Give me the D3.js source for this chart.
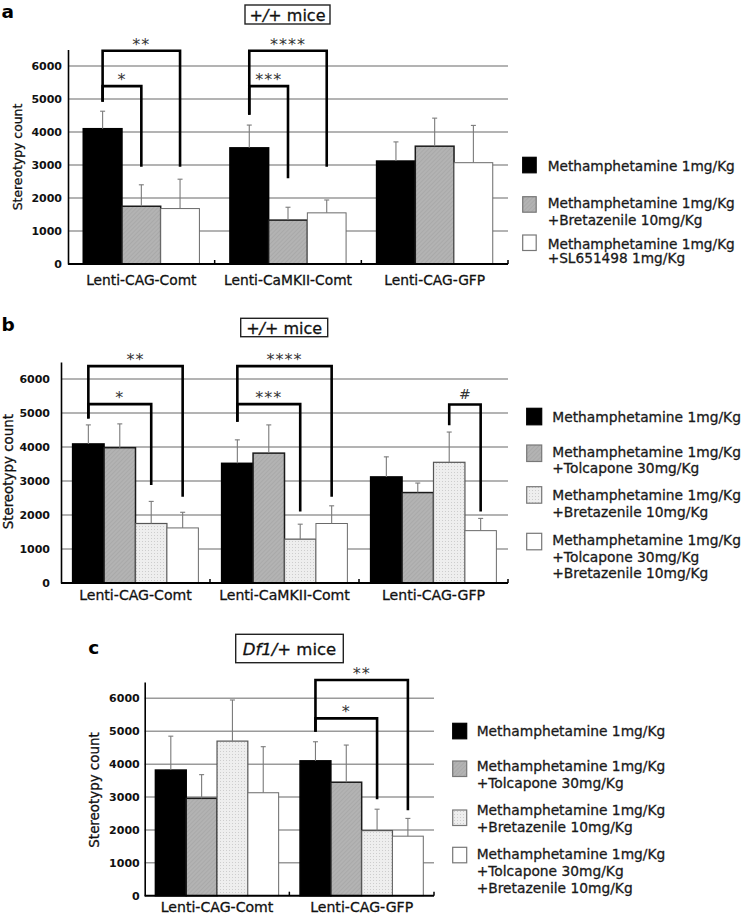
<!DOCTYPE html>
<html><head><meta charset="utf-8">
<script src="https://cdn.jsdelivr.net/npm/d3@7"></script>
<style>body{margin:0;background:#fff}svg{display:block}</style>
</head><body>
<script>
// ---------------- DATA ----------------
const groupsAB = ["Lenti-CAG-Comt", "Lenti-CaMKII-Comt", "Lenti-CAG-GFP"];
const groupsC = ["Lenti-CAG-Comt", "Lenti-CAG-GFP"];
const seriesA = [
  ["Methamphetamine 1mg/Kg"],
  ["Methamphetamine 1mg/Kg", "+Bretazenile 10mg/Kg"],
  ["Methamphetamine 1mg/Kg", "+SL651498 1mg/Kg"]
];
const seriesBC = [
  ["Methamphetamine 1mg/Kg"],
  ["Methamphetamine 1mg/Kg", "+Tolcapone 30mg/Kg"],
  ["Methamphetamine 1mg/Kg", "+Bretazenile 10mg/Kg"],
  ["Methamphetamine 1mg/Kg", "+Tolcapone 30mg/Kg", "+Bretazenile 10mg/Kg"]
];
// mean per group (rows) x series (cols)
const meanA = [[4100, 1750, 1680], [3520, 1330, 1550], [3120, 3570, 3070]];
const semA  = [[530, 650, 890], [690, 390, 390], [580, 850, 1130]];
const meanB = [[4090, 3980, 1750, 1620], [3520, 3820, 1290, 1750], [3120, 2660, 3550, 1540]];
const semB  = [[560, 700, 650, 460], [690, 830, 440, 520], [590, 280, 890, 360]];
const meanC = [[3820, 2960, 4700, 3130], [4100, 3450, 1980, 1810]];
const semC  = [[1030, 720, 1250, 1400], [580, 1130, 650, 540]];
const yTicks = [0, 1000, 2000, 3000, 4000, 5000, 6000];
const yMax = 6500;
// significance brackets: group, from series, to series, left leg bottom, top, right leg bottom (counts), label
const sigA = [
  {g: 0, a: 0, b: 1, l: 4920, top: 5390, r: 2950, t: "*"},
  {g: 0, a: 0, b: 2, l: 4920, top: 6460, r: 2950, t: "**"},
  {g: 1, a: 0, b: 1, l: 4520, top: 5390, r: 2600, t: "***"},
  {g: 1, a: 0, b: 2, l: 4520, top: 6460, r: 2950, t: "****"}
];
const sigB = [
  {g: 0, a: 0, b: 2, l: 4840, top: 5260, r: 2880, t: "*"},
  {g: 0, a: 0, b: 3, l: 4840, top: 6380, r: 2540, t: "**"},
  {g: 1, a: 0, b: 2, l: 4740, top: 5260, r: 2100, t: "***"},
  {g: 1, a: 0, b: 3, l: 4740, top: 6380, r: 2540, t: "****"},
  {g: 2, a: 2, b: 3, l: 4640, top: 5250, r: 2100, t: "#"}
];
const sigC = [
  {g: 1, a: 0, b: 2, l: 4985, top: 5390, r: 2930, t: "*"},
  {g: 1, a: 0, b: 3, l: 4985, top: 6556, r: 2600, t: "**"}
];

// ---------------- DRAW ----------------
const W = 743, H = 915;
const svg = d3.select("body").append("svg").attr("width", W).attr("height", H)
  .style("font-family", "'DejaVu Sans', Verdana, sans-serif");

const defs = svg.append("defs");
const hatch = defs.append("pattern").attr("id", "hatch").attr("patternUnits", "userSpaceOnUse")
  .attr("width", 3).attr("height", 3).attr("patternTransform", "rotate(45)");
hatch.append("rect").attr("width", 3).attr("height", 3).attr("fill", "#b3b3b3");
hatch.append("line").attr("x1", 0).attr("y1", 0).attr("x2", 0).attr("y2", 3)
  .attr("stroke", "#a2a2a2").attr("stroke-width", 1.2);
const dots = defs.append("pattern").attr("id", "dots").attr("patternUnits", "userSpaceOnUse")
  .attr("width", 3).attr("height", 3);
dots.append("rect").attr("width", 3).attr("height", 3).attr("fill", "#eeeeee");
dots.append("rect").attr("x", 1).attr("y", 1).attr("width", 1).attr("height", 1).attr("fill", "#cdcdcd");

const stylesA = [
  {fill: "#000", stroke: "#000", sw: 1.5},
  {fill: "url(#hatch)", stroke: "#1a1a1a", sw: 1.5},
  {fill: "#fff", stroke: "#6a6a6a", sw: 1}
];
const stylesBC = [
  {fill: "#000", stroke: "#000", sw: 1.5},
  {fill: "url(#hatch)", stroke: "#1a1a1a", sw: 1.5},
  {fill: "url(#dots)", stroke: "#555", sw: 1.2},
  {fill: "#fff", stroke: "#6a6a6a", sw: 1}
];

function heavy(sel, col) {
  return sel.attr("stroke", col).attr("stroke-width", 0.3).attr("paint-order", "stroke");
}

function panel(cfg) {
  const g = svg.append("g");
  const y = d3.scaleLinear().domain([0, yMax]).range([cfg.y0, cfg.yTop]);
  const x = d3.scaleBand().domain(cfg.groups).range([cfg.x0, cfg.x1]).paddingInner(0).paddingOuter(0);
  const bw = x.bandwidth();
  const pad = bw * cfg.padFrac;
  const xi = d3.scaleBand().domain(d3.range(cfg.series.length)).range([pad, bw - pad]).padding(0);

  // gridlines
  g.append("g").selectAll("line").data(yTicks.filter(d => d > 0)).join("line")
    .attr("x1", cfg.x0).attr("x2", cfg.x1).attr("y1", d => y(d)).attr("y2", d => y(d))
    .attr("stroke", "#9a9a9a").attr("stroke-width", 1.5);

  // bars
  const flat = [];
  cfg.groups.forEach((grp, gi) => cfg.series.forEach((s, si) =>
    flat.push({grp, gi, si, v: cfg.mean[gi][si], e: cfg.sem[gi][si]})));
  g.append("g").selectAll("rect").data(flat).join("rect")
    .attr("x", d => x(d.grp) + xi(d.si))
    .attr("y", d => y(d.v))
    .attr("width", xi.bandwidth())
    .attr("height", d => y(0) - y(d.v))
    .attr("fill", d => cfg.styles[d.si].fill)
    .attr("stroke", d => cfg.styles[d.si].stroke)
    .attr("stroke-width", d => cfg.styles[d.si].sw);

  // error bars
  const eg = g.append("g").attr("stroke", "#7a7a7a").attr("stroke-width", 1.1);
  flat.forEach(d => {
    const cx = x(d.grp) + xi(d.si) + xi.bandwidth() / 2;
    eg.append("line").attr("x1", cx).attr("x2", cx).attr("y1", y(d.v)).attr("y2", y(d.v + d.e));
    eg.append("line").attr("x1", cx - 2.5).attr("x2", cx + 2.5).attr("y1", y(d.v + d.e)).attr("y2", y(d.v + d.e));
  });

  // y axis
  const ya = d3.axisLeft(y).tickValues(yTicks).tickSize(0).tickPadding(cfg.tickPad).tickFormat(d3.format("d"));
  const yg = g.append("g").attr("transform", `translate(${cfg.x0},0)`).call(ya);
  yg.select(".domain").attr("stroke", "#000").attr("stroke-width", 1.6);
  yg.selectAll("text").attr("font-size", 11).attr("font-weight", "bold")
    .attr("font-family", "'DejaVu Sans', sans-serif").attr("fill", "#111");

  // x axis line with small upward ticks at group boundaries
  g.append("line").attr("x1", cfg.x0).attr("x2", cfg.x1).attr("y1", y(0)).attr("y2", y(0))
    .attr("stroke", "#000").attr("stroke-width", 2);
  const bounds = cfg.groups.slice(1).map(d => x(d)).concat([cfg.x1]);
  g.append("g").selectAll("line").data(bounds).join("line")
    .attr("x1", d => d).attr("x2", d => d).attr("y1", y(0)).attr("y2", y(0) - 4)
    .attr("stroke", "#000").attr("stroke-width", 1.5);

  // category labels
  heavy(g.append("g").selectAll("text").data(cfg.groups).join("text")
    .attr("x", d => x(d) + bw / 2).attr("y", y(0) + cfg.labOff)
    .attr("text-anchor", "middle").attr("font-size", cfg.catSize).attr("fill", "#111")
    .text(d => d), "#111");

  // y title
  heavy(g.append("text").attr("transform", `translate(${cfg.ytX},${cfg.ytY}) rotate(-90)`)
    .attr("text-anchor", "middle").attr("dominant-baseline", "central")
    .attr("font-size", cfg.ytSize).attr("fill", "#111").text("Stereotypy count"), "#111");

  // brackets
  const bg = g.append("g");
  cfg.sig.forEach(s => {
    const xa = x(cfg.groups[s.g]) + xi(s.a) + xi.bandwidth() / 2;
    const xb = x(cfg.groups[s.g]) + xi(s.b) + xi.bandwidth() / 2;
    bg.append("path").attr("d", `M${xa},${y(s.l)}V${y(s.top)}H${xb}V${y(s.r)}`)
      .attr("fill", "none").attr("stroke", "#000").attr("stroke-width", 2.6);
    bg.append("text").attr("x", (xa + xb) / 2).attr("y", y(s.top) - (s.t === "#" ? 6 : 1))
      .attr("text-anchor", "middle").attr("font-size", s.t === "#" ? 14 : 16).attr("fill", "#333")
      .attr("letter-spacing", s.t === "#" ? 0 : 1).text(s.t);
  });

  // panel letter
  g.append("text").attr("x", cfg.letX).attr("y", cfg.letY).attr("font-size", 18.5)
    .attr("font-weight", "bold").attr("fill", "#000").text(cfg.letter);

  // title box
  g.append("rect").attr("x", cfg.box[0]).attr("y", cfg.box[1]).attr("width", cfg.box[2]).attr("height", cfg.box[3])
    .attr("fill", "#fff").attr("stroke", "#222").attr("stroke-width", 1.4);
  const tt = heavy(g.append("text").attr("x", cfg.box[0] + cfg.box[2] / 2).attr("y", cfg.titleY)
    .attr("text-anchor", "middle").attr("font-size", cfg.titleSize).attr("fill", "#111"), "#111");
  tt.append("tspan").attr("font-style", "italic").text(cfg.titleIt);
  tt.append("tspan").text(" mice");

  // legend
  const lg = g.append("g");
  cfg.series.forEach((lines, si) => {
    const it = cfg.leg.items[si];
    lg.append("rect").attr("x", cfg.leg.sx).attr("y", it[0]).attr("width", cfg.leg.sw).attr("height", cfg.leg.sh)
      .attr("fill", cfg.styles[si].fill).attr("stroke", si === 0 ? "#000" : "#777").attr("stroke-width", 1.2);
    lines.forEach((ln, li) => {
      heavy(lg.append("text").attr("x", cfg.leg.tx).attr("y", it[1][li]).attr("dy", "0.36em")
        .attr("font-size", cfg.leg.fs).attr("fill", "#1a1a1a").text(ln), "#1a1a1a");
    });
  });
}

panel({
  groups: groupsAB, series: seriesA, mean: meanA, sem: semA, styles: stylesA, sig: sigA,
  x0: 68, x1: 508, y0: 264, yTop: 49.5, padFrac: 0.104, tickPad: 6,
  labOff: 21, catSize: 13.8, ytX: 17, ytY: 157, ytSize: 12.4,
  letter: "a", letX: 1.5, letY: 18,
  box: [245, 5, 85, 19], titleY: 20.5, titleSize: 16, titleIt: "+/+",
  leg: {sx: 522.7, sw: 13.5, sh: 15.5, tx: 547.7, fs: 13.7,
        items: [[157.3, [166]], [196.7, [203.3, 220]], [235, [244, 258.3]]]}
});
panel({
  groups: groupsAB, series: seriesBC, mean: meanB, sem: semB, styles: stylesBC, sig: sigB,
  x0: 61, x1: 508, y0: 583, yTop: 362, padFrac: 0.078, tickPad: 11,
  labOff: 17, catSize: 14.1, ytX: 8.3, ytY: 471.7, ytSize: 13.4,
  letter: "b", letX: 1.5, letY: 330.7,
  box: [240.7, 318.3, 87, 18.4], titleY: 333.5, titleSize: 16, titleIt: "+/+",
  leg: {sx: 526.7, sw: 15, sh: 16.5, tx: 552.3, fs: 13.8,
        items: [[408.3, [416.7]], [445, [452.3, 468.3]], [486.7, [495, 511.7]], [533.3, [540, 556.7, 573.3]]]}
});
panel({
  groups: groupsC, series: seriesBC, mean: meanC, sem: semC, styles: stylesBC, sig: sigC,
  x0: 144.7, x1: 434, y0: 895.7, yTop: 681.9, padFrac: 0.074, tickPad: 5,
  labOff: 16, catSize: 14.1, ytX: 94, ytY: 790, ytSize: 13.4,
  letter: "c", letX: 88.3, letY: 654,
  box: [235.7, 634.3, 107.6, 28.4], titleY: 655, titleSize: 16.5, titleIt: "Df1/+",
  leg: {sx: 452.7, sw: 14, sh: 15.5, tx: 476.7, fs: 13.8,
        items: [[723.3, [731]], [761, [766, 782.7]], [810, [810, 826.7]], [847.3, [854.3, 871, 887.7]]]}
});
</script>
</body></html>
